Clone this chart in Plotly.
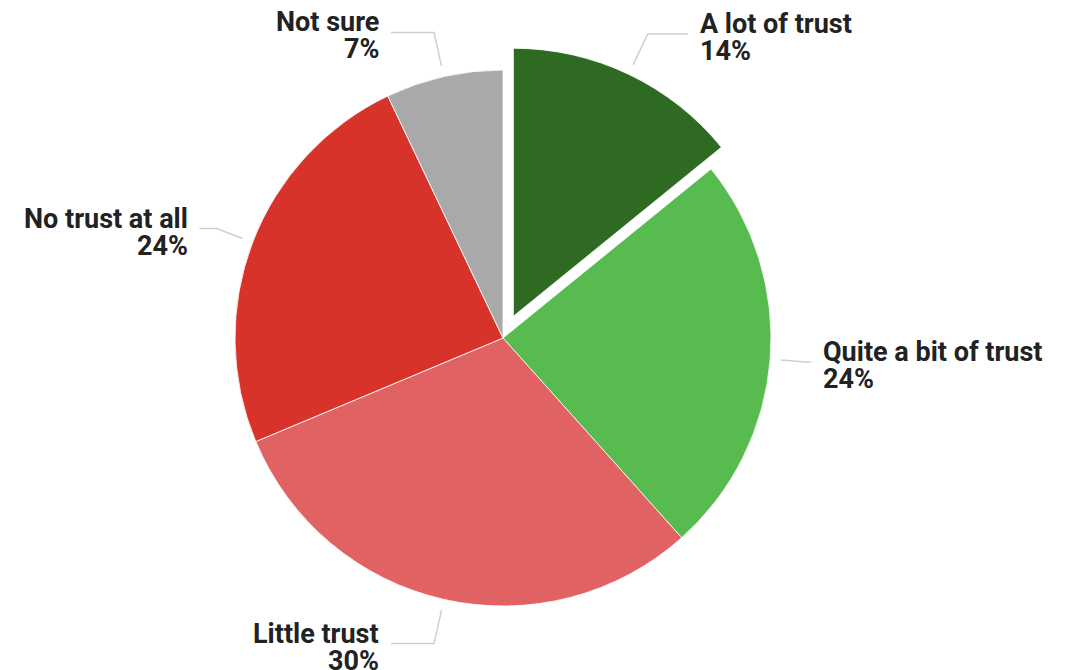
import math
import plotly.graph_objects as go

labels = ["A lot of trust", "Quite a bit of trust", "Little trust", "No trust at all", "Not sure"]
values = [14, 24, 30, 24, 7]
colors = ["#2e6a21", "#58bb50", "#e06262", "#d8332a", "#a9a9a9"]
pulls = [0.09, 0, 0, 0, 0]

W, H = 1067, 670
CX, CY, R = 503, 338, 268  # pie centre and radius in pixels
maxpull = max(pulls)
half = R * (1 + maxpull)

fig = go.Figure(go.Pie(
    labels=labels, values=values, sort=False, direction="clockwise", rotation=0,
    marker=dict(colors=colors, line=dict(color="white", width=0.8)),
    pull=pulls, textinfo="none", hoverinfo="label+percent", showlegend=False,
    domain=dict(x=[(CX - half) / W, (CX + half) / W],
                y=[(H - CY - half) / H, (H - CY + half) / H]),
))

def px2paper(x, y):
    return x / W, 1 - y / H

FONT = dict(family="Roboto", size=27, color="#222222", weight=700)

total = sum(values)
cum = 0
shapes = []
annotations = []
for lab, v, p in zip(labels, values, pulls):
    a0 = cum / total * 2 * math.pi
    cum += v
    a1 = cum / total * 2 * math.pi
    mid = (a0 + a1) / 2
    dx, dy = math.sin(mid), -math.cos(mid)
    c = abs(math.cos(mid))
    ox, oy = CX + dx * p * R, CY + dy * p * R
    sx, sy = ox + dx * R * 1.04, oy + dy * R * 1.04
    re = 1.13 + 0.04 * c
    ex, ey = ox + dx * R * re, oy + dy * R * re
    side = 1 if dx >= 0 else -1
    L = 42 * c + 2
    hx, hy = ex + side * L, ey
    pts = [px2paper(sx, sy), px2paper(ex, ey), px2paper(hx, hy)]
    path = "M {} {} L {} {} L {} {}".format(*[k for pt in pts for k in pt])
    shapes.append(dict(type="path", xref="paper", yref="paper", path=path,
                       line=dict(color="#cfcfcf", width=1.5)))
    for txt, off in ((lab, -10), (f"{v}%", 17)):
        tx, ty = px2paper(hx + side * 10, hy + off)
        annotations.append(dict(
            x=tx, y=ty, xref="paper", yref="paper", showarrow=False,
            text=txt, xanchor="left" if side > 0 else "right",
            yanchor="middle", align="left" if side > 0 else "right",
            font=FONT,
        ))

fig.update_layout(
    width=W, height=H, margin=dict(l=0, r=0, t=0, b=0),
    paper_bgcolor="white", plot_bgcolor="white",
    shapes=shapes, annotations=annotations,
)
fig.write_html("out.html", config={"displayModeBar": False},
               post_script="document.body.style.margin='0';")
